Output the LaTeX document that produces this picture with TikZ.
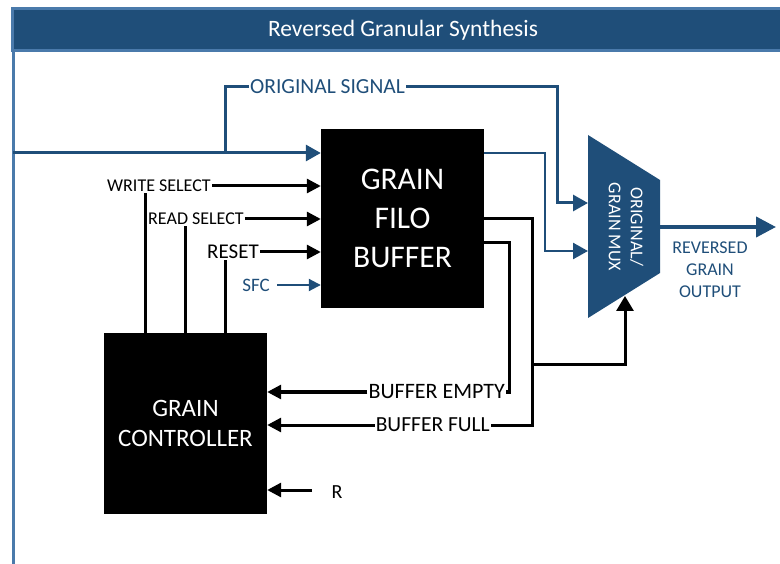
\documentclass[tikz,border=0pt]{standalone}
\usepackage{fontspec}
\setmainfont{Carlito}
\usetikzlibrary{arrows.meta,calc}
\definecolor{muxblue}{HTML}{1F4E79}
\definecolor{frameblue}{HTML}{4A7AAB}
\newcommand{\fsz}[2]{\fontsize{#1}{#2}\selectfont}

\begin{document}
\begin{tikzpicture}[x=1pt,y=-1pt,
  blk/.style={fill=black,text=white,align=center,inner sep=0pt},
  lbl/.style={inner sep=1pt,font=\fsz{18}{21}},
  bwire/.style={line width=3pt,muxblue},
  kwire/.style={line width=3pt,black},
  barr/.style={bwire,-{Triangle[length=15pt,width=16pt]}},
  karr/.style={kwire,-{Triangle[length=14pt,width=14pt]}}]
\useasboundingbox (0,0) rectangle (780,564);
% frame and title
\draw[frameblue,line width=3pt,fill=muxblue] (12,8.5) rectangle (782,50.5);
\node[font=\fsz{23.5}{27},text=white] (title) at (403,30) {Reversed Granular Synthesis};
\draw[frameblue,line width=3pt] (13.5,52) -- (13.5,564);
% blocks
\node[blk,minimum width=163pt,minimum height=179pt,font=\fsz{31.5}{39}] (filo) at (402.5,218.5) {GRAIN\\FILO\\BUFFER};
\node[blk,minimum width=163pt,minimum height=181pt,font=\fsz{25}{30}] (ctrl) at (185.5,423.5) {GRAIN\\CONTROLLER};
\fill[muxblue] (588,135) -- (660,180) -- (660,273) -- (588,318) -- cycle;
\node[rotate=-90,text=white,align=center,font=\fsz{18}{22}] (mux) at (626,227) {ORIGINAL/\\GRAIN MUX};
\coordinate (mux-in1) at (588,203);
\coordinate (mux-in2) at (588,251);
\coordinate (mux-out) at (660,227);
\coordinate (mux-sel) at (625,296);
% labels
\node[lbl,text=muxblue,font=\fsz{21.5}{25}] (orig) at (327.5,87) {ORIGINAL SIGNAL};
\node[lbl,anchor=east] (wsel) at (212,186) {WRITE SELECT};
\node[lbl,anchor=east] (rsel) at (245,219) {READ SELECT};
\node[lbl,anchor=east,font=\fsz{21}{24}] (rst) at (260,252) {RESET};
\node[lbl,anchor=east,text=muxblue,font=\fsz{19}{22}] (sfc) at (271,285) {SFC};
\node[lbl,anchor=east,font=\fsz{22}{25}] (bempty) at (506,392) {BUFFER EMPTY};
\node[lbl,anchor=east,font=\fsz{21.5}{25}] (bfull) at (491,425) {BUFFER FULL};
\node[lbl,font=\fsz{20}{24}] (rin) at (337,492) {R};
\node[align=center,text=muxblue,font=\fsz{18}{22}] (outlbl) at (710,270) {REVERSED\\GRAIN\\OUTPUT};
% signal path
\coordinate (in) at (13,153);
\coordinate (split) at (225,153);
\coordinate (up1) at (557,87);
\coordinate (up2) at (545,153);
\coordinate (out) at (776,227);
\draw[barr] (in) -- (filo.west |- in);
\draw[bwire] (split) |- (orig.west);
\draw[barr] (orig.east) -- (up1) |- (mux-in1);
\draw[barr,line width=2.5pt] (filo.east |- in) -- (up2) |- (mux-in2);
\draw[barr,line width=4pt,-{Triangle[length=20pt,width=20pt]}] (mux-out) -- (out);
% control inputs
\draw[karr] (wsel.east) -- (filo.west |- wsel.east);
\draw[karr] (rsel.east) -- (filo.west |- rsel.east);
\draw[karr] (rst.east) -- (filo.west |- rst.east);
\draw[barr,line width=2pt,-{Triangle[length=12pt,width=12pt]}] ([xshift=6pt]sfc.east) -- (filo.west |- sfc.east);
\foreach \dx/\lb in {-40/wsel,0/rsel,40/rst}{
  \coordinate (tap) at ($(ctrl.north)+(\dx,0)$);
  \draw[kwire] (tap) -- (tap |- \lb.south);
}
% feedback
\coordinate (jfull) at (532,425);
\coordinate (jempty) at (509,392);
\coordinate (jsel) at (532,365);
\coordinate (rstart) at (312,490);
\draw[kwire] (filo.east) -| (jfull) -- (bfull.east);
\draw[kwire] ($(filo.east)+(0,24.5)$) -| (jempty) -- (bempty.east);
\draw[karr] (bempty.west) -- (ctrl.east |- bempty.west);
\draw[karr] (bfull.west) -- (ctrl.east |- bfull.west);
\draw[karr,-{Triangle[length=15pt,width=17pt]}] (jsel) -| (mux-sel);
\draw[karr] (rstart) -- (ctrl.east |- rstart);
\end{tikzpicture}
\end{document}
